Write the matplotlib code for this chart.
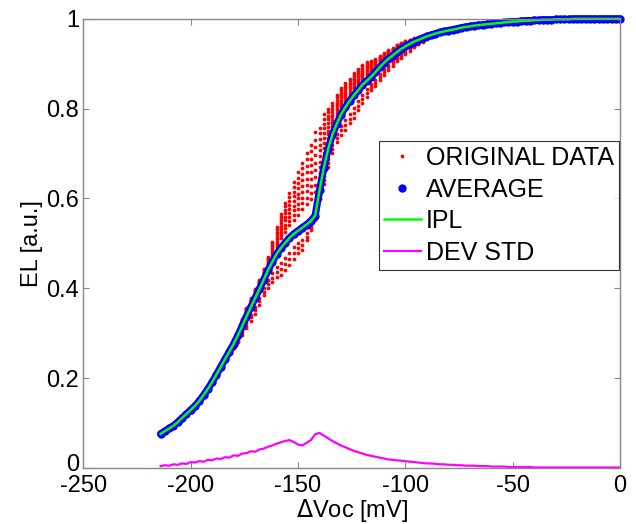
import numpy as np
import matplotlib
matplotlib.use('Agg')
import matplotlib.pyplot as plt
import matplotlib.transforms as mtrans
from matplotlib.ticker import FormatStrFormatter

plt.rcParams['font.family'] = ['Liberation Sans', 'DejaVu Sans']
plt.rcParams['axes.unicode_minus'] = False
n = 17  # font size
n2 = 18  # legend

# dVoc grid, 2 mV step (mV)
dvoc = np.arange(-214, 1, 2)

# average EL
avg = [0.076, 0.082, 0.088, 0.094, 0.102, 0.111, 0.120, 0.129, 0.138, 0.149,
       0.162, 0.176, 0.191, 0.208, 0.225, 0.242, 0.259, 0.276, 0.295, 0.316,
       0.337, 0.358, 0.378, 0.398, 0.419, 0.440, 0.459, 0.476, 0.490, 0.501,
       0.512, 0.521, 0.528, 0.535, 0.542, 0.550, 0.562,
       0.618, 0.668, 0.710, 0.742, 0.766, 0.787, 0.803, 0.817, 0.830, 0.841,
       0.853, 0.862, 0.871, 0.881, 0.892, 0.902, 0.911, 0.918, 0.926, 0.933,
       0.939, 0.944, 0.949, 0.953, 0.957, 0.961, 0.964, 0.967, 0.970, 0.972,
       0.974, 0.976, 0.978, 0.980, 0.982, 0.983, 0.985, 0.986, 0.987, 0.988,
       0.989, 0.990, 0.991, 0.992, 0.993, 0.994, 0.994, 0.995, 0.996, 0.996,
       0.997, 0.997, 0.998, 0.998, 0.998, 0.999, 0.999, 0.999, 0.999, 1.000,
       1.000, 1.000, 1.000, 1.000, 1.000, 1.000, 1.000, 1.000, 1.000, 1.000, 1.000]

# standard deviation
dev_std = [0.004, 0.006, 0.005, 0.008, 0.007, 0.010, 0.009, 0.013, 0.012, 0.015,
           0.014, 0.018, 0.017, 0.021, 0.020, 0.024, 0.023, 0.028, 0.027, 0.032,
           0.033, 0.037, 0.036, 0.041, 0.043, 0.047, 0.050, 0.054, 0.057, 0.060,
           0.062, 0.058, 0.052, 0.050, 0.056, 0.062, 0.075, 0.078, 0.072, 0.066,
           0.060, 0.055, 0.050, 0.046, 0.042, 0.038, 0.035, 0.032, 0.029, 0.027,
           0.025, 0.023, 0.021, 0.019, 0.018, 0.017, 0.016, 0.015, 0.014, 0.013,
           0.012, 0.011, 0.010, 0.010, 0.009, 0.008, 0.008, 0.007, 0.007, 0.006,
           0.006, 0.005, 0.005, 0.005, 0.004, 0.004, 0.004, 0.003, 0.003, 0.003,
           0.003, 0.002, 0.002, 0.002, 0.002, 0.002, 0.002, 0.001, 0.001, 0.001,
           0.001, 0.001, 0.001, 0.001, 0.001, 0.001, 0.001, 0.001, 0.001, 0.001,
           0.001, 0.001, 0.001, 0.001, 0.001, 0.001, 0.001, 0.001]

# original data curves, written as offset from the average (-180 .. -90 mV)
i0, i1 = 17, 63
orig_off = [
    [0.010, 0.010, 0.015, 0.020, 0.020, 0.020, 0.020, 0.025, 0.030, 0.045, 0.060, 0.075, 0.090, 0.100, 0.115, 0.130,
     0.145, 0.160, 0.170, 0.185, 0.140, 0.120, 0.090, 0.070, 0.065, 0.060, 0.055, 0.050, 0.050, 0.048, 0.045, 0.042,
     0.035, 0.030, 0.025, 0.022, 0.020, 0.018, 0.016, 0.014, 0.012, 0.010, 0.008, 0.006, 0.005, 0.004],
    [0.009, 0.009, 0.014, 0.018, 0.018, 0.018, 0.018, 0.023, 0.027, 0.041, 0.055, 0.068, 0.082, 0.091, 0.105, 0.118,
     0.132, 0.146, 0.155, 0.168, 0.127, 0.109, 0.082, 0.064, 0.059, 0.055, 0.050, 0.046, 0.046, 0.044, 0.041, 0.038,
     0.032, 0.027, 0.023, 0.020, 0.018, 0.016, 0.015, 0.013, 0.011, 0.009, 0.007, 0.005, 0.005, 0.004],
    [0.008, 0.008, 0.012, 0.016, 0.016, 0.016, 0.016, 0.021, 0.025, 0.037, 0.049, 0.062, 0.074, 0.082, 0.094, 0.107,
     0.119, 0.131, 0.139, 0.152, 0.115, 0.098, 0.074, 0.057, 0.053, 0.049, 0.045, 0.041, 0.041, 0.039, 0.037, 0.034,
     0.029, 0.025, 0.021, 0.018, 0.016, 0.015, 0.013, 0.011, 0.010, 0.008, 0.007, 0.005, 0.004, 0.003],
    [0.007, 0.007, 0.011, 0.015, 0.015, 0.015, 0.015, 0.018, 0.022, 0.033, 0.044, 0.055, 0.066, 0.073, 0.084, 0.095,
     0.106, 0.117, 0.124, 0.135, 0.102, 0.088, 0.066, 0.051, 0.047, 0.044, 0.040, 0.037, 0.037, 0.035, 0.033, 0.031,
     0.026, 0.022, 0.018, 0.016, 0.015, 0.013, 0.012, 0.010, 0.009, 0.007, 0.006, 0.004, 0.004, 0.003],
    [0.006, 0.006, 0.010, 0.013, 0.013, 0.013, 0.013, 0.016, 0.019, 0.029, 0.038, 0.048, 0.058, 0.064, 0.074, 0.083,
     0.093, 0.102, 0.109, 0.118, 0.090, 0.077, 0.058, 0.045, 0.042, 0.038, 0.035, 0.032, 0.032, 0.031, 0.029, 0.027,
     0.022, 0.019, 0.016, 0.014, 0.013, 0.012, 0.010, 0.009, 0.008, 0.006, 0.005, 0.004, 0.003, 0.003],
    [0.006, 0.006, 0.008, 0.011, 0.011, 0.011, 0.011, 0.014, 0.017, 0.025, 0.033, 0.041, 0.050, 0.055, 0.063, 0.072,
     0.080, 0.088, 0.094, 0.102, 0.077, 0.066, 0.050, 0.039, 0.036, 0.033, 0.030, 0.028, 0.028, 0.026, 0.025, 0.023,
     0.019, 0.017, 0.014, 0.012, 0.011, 0.010, 0.009, 0.008, 0.007, 0.006, 0.004, 0.003, 0.003, 0.002],
    [0.005, 0.005, 0.007, 0.009, 0.009, 0.009, 0.009, 0.012, 0.014, 0.021, 0.028, 0.035, 0.041, 0.046, 0.053, 0.060,
     0.067, 0.074, 0.078, 0.085, 0.064, 0.055, 0.041, 0.032, 0.030, 0.028, 0.025, 0.023, 0.023, 0.022, 0.021, 0.019,
     0.016, 0.014, 0.012, 0.010, 0.009, 0.008, 0.007, 0.006, 0.006, 0.005, 0.004, 0.003, 0.002, 0.002],
    [0.004, 0.004, 0.006, 0.007, 0.007, 0.007, 0.007, 0.009, 0.011, 0.017, 0.022, 0.028, 0.033, 0.037, 0.043, 0.048,
     0.054, 0.059, 0.063, 0.068, 0.052, 0.044, 0.033, 0.026, 0.024, 0.022, 0.020, 0.019, 0.019, 0.018, 0.017, 0.016,
     0.013, 0.011, 0.009, 0.008, 0.007, 0.007, 0.006, 0.005, 0.004, 0.004, 0.003, 0.002, 0.002, 0.001],
    [0.003, 0.003, 0.004, 0.006, 0.006, 0.006, 0.006, 0.007, 0.008, 0.013, 0.017, 0.021, 0.025, 0.028, 0.032, 0.036,
     0.041, 0.045, 0.048, 0.052, 0.039, 0.034, 0.025, 0.020, 0.018, 0.017, 0.015, 0.014, 0.014, 0.013, 0.013, 0.012,
     0.010, 0.008, 0.007, 0.006, 0.006, 0.005, 0.004, 0.004, 0.003, 0.003, 0.002, 0.002, 0.001, 0.001],
    [-0.006, -0.008, -0.011, -0.014, -0.017, -0.019, -0.019, -0.019, -0.022, -0.025, -0.028, -0.033, -0.033, -0.033,
     -0.030, -0.028, -0.028, -0.019, -0.011, -0.006, -0.011, -0.019, -0.022, -0.022, -0.022, -0.025, -0.028, -0.028,
     -0.028, -0.025, -0.022, -0.019, -0.017, -0.017, -0.015, -0.014, -0.013, -0.012, -0.011, -0.011, -0.010, -0.008,
     -0.007, -0.006, -0.004, -0.003],
    [-0.008, -0.012, -0.016, -0.020, -0.023, -0.027, -0.027, -0.027, -0.031, -0.035, -0.039, -0.047, -0.047, -0.047,
     -0.043, -0.039, -0.039, -0.027, -0.016, -0.008, -0.016, -0.027, -0.031, -0.031, -0.031, -0.035, -0.039, -0.039,
     -0.039, -0.035, -0.031, -0.027, -0.023, -0.023, -0.022, -0.020, -0.019, -0.017, -0.016, -0.016, -0.014, -0.012,
     -0.009, -0.008, -0.006, -0.005],
    [-0.010, -0.015, -0.020, -0.025, -0.030, -0.035, -0.035, -0.035, -0.040, -0.045, -0.050, -0.060, -0.060, -0.060,
     -0.055, -0.050, -0.050, -0.035, -0.020, -0.010, -0.020, -0.035, -0.040, -0.040, -0.040, -0.045, -0.050, -0.050,
     -0.050, -0.045, -0.040, -0.035, -0.030, -0.030, -0.028, -0.026, -0.024, -0.022, -0.020, -0.020, -0.018, -0.015,
     -0.012, -0.010, -0.008, -0.006],
]

avg = np.array(avg)
orig_x = np.concatenate([dvoc[i0:i1] for row in orig_off])
orig_y = np.concatenate([avg[i0:i1] + np.array(row) for row in orig_off])

fig = plt.figure(figsize=(6.36, 5.24), dpi=100)
ax = fig.add_axes([0.131, 0.107, 0.844, 0.857])

ax.plot(orig_x, orig_y, 'o', color='red', ms=2.7, mew=0, label='ORIGINAL DATA')
ax.plot(dvoc, avg, '-', color='blue', lw=5.2, solid_capstyle='round', clip_on=False)
ax.plot(dvoc, avg, 'o', color='blue', ms=6, mew=0, clip_on=False, label='AVERAGE')
ax.plot(dvoc, avg, '-', color=(0, 1, 0), lw=1.8, clip_on=False, label='IPL')
ax.plot(dvoc, dev_std, '-', color=(1, 0, 1), lw=1.6, label='DEV STD')

ax.set_xlim(-250, 0)
ax.set_ylim(0, 1)
ax.set_xticks([-250, -200, -150, -100, -50, 0])
ax.set_yticks([0, 0.2, 0.4, 0.6, 0.8, 1])
ax.yaxis.set_major_formatter(FormatStrFormatter('%g'))
ax.tick_params(axis='both', direction='in', length=4, color='#888888',
               labelsize=n, top=True, right=True)
ax.tick_params(axis='x', pad=5)
ax.tick_params(axis='y', pad=3)
for s in ax.spines.values():
    s.set_color('#888888')
    s.set_linewidth(1.0)

# lift the "0" label a little so it does not sit on "-250"
lbl0 = ax.yaxis.get_major_ticks()[0].label1
lbl0.set_transform(lbl0.get_transform() + mtrans.ScaledTranslation(0, 4 / 72, fig.dpi_scale_trans))

ax.set_xlabel(r'$\Delta$Voc [mV]', fontsize=n, labelpad=0)
ax.set_ylabel('EL [a.u.]', fontsize=n, labelpad=2)

leg = ax.legend(loc='upper right', bbox_to_anchor=(0.998, 0.728), borderaxespad=0,
                fontsize=n2, frameon=True, fancybox=False, edgecolor='black',
                handlelength=1.5, handletextpad=0.2, labelspacing=0.3, borderpad=0.2)
leg.get_frame().set_linewidth(0.8)

fig.savefig('out.png', dpi=100)
